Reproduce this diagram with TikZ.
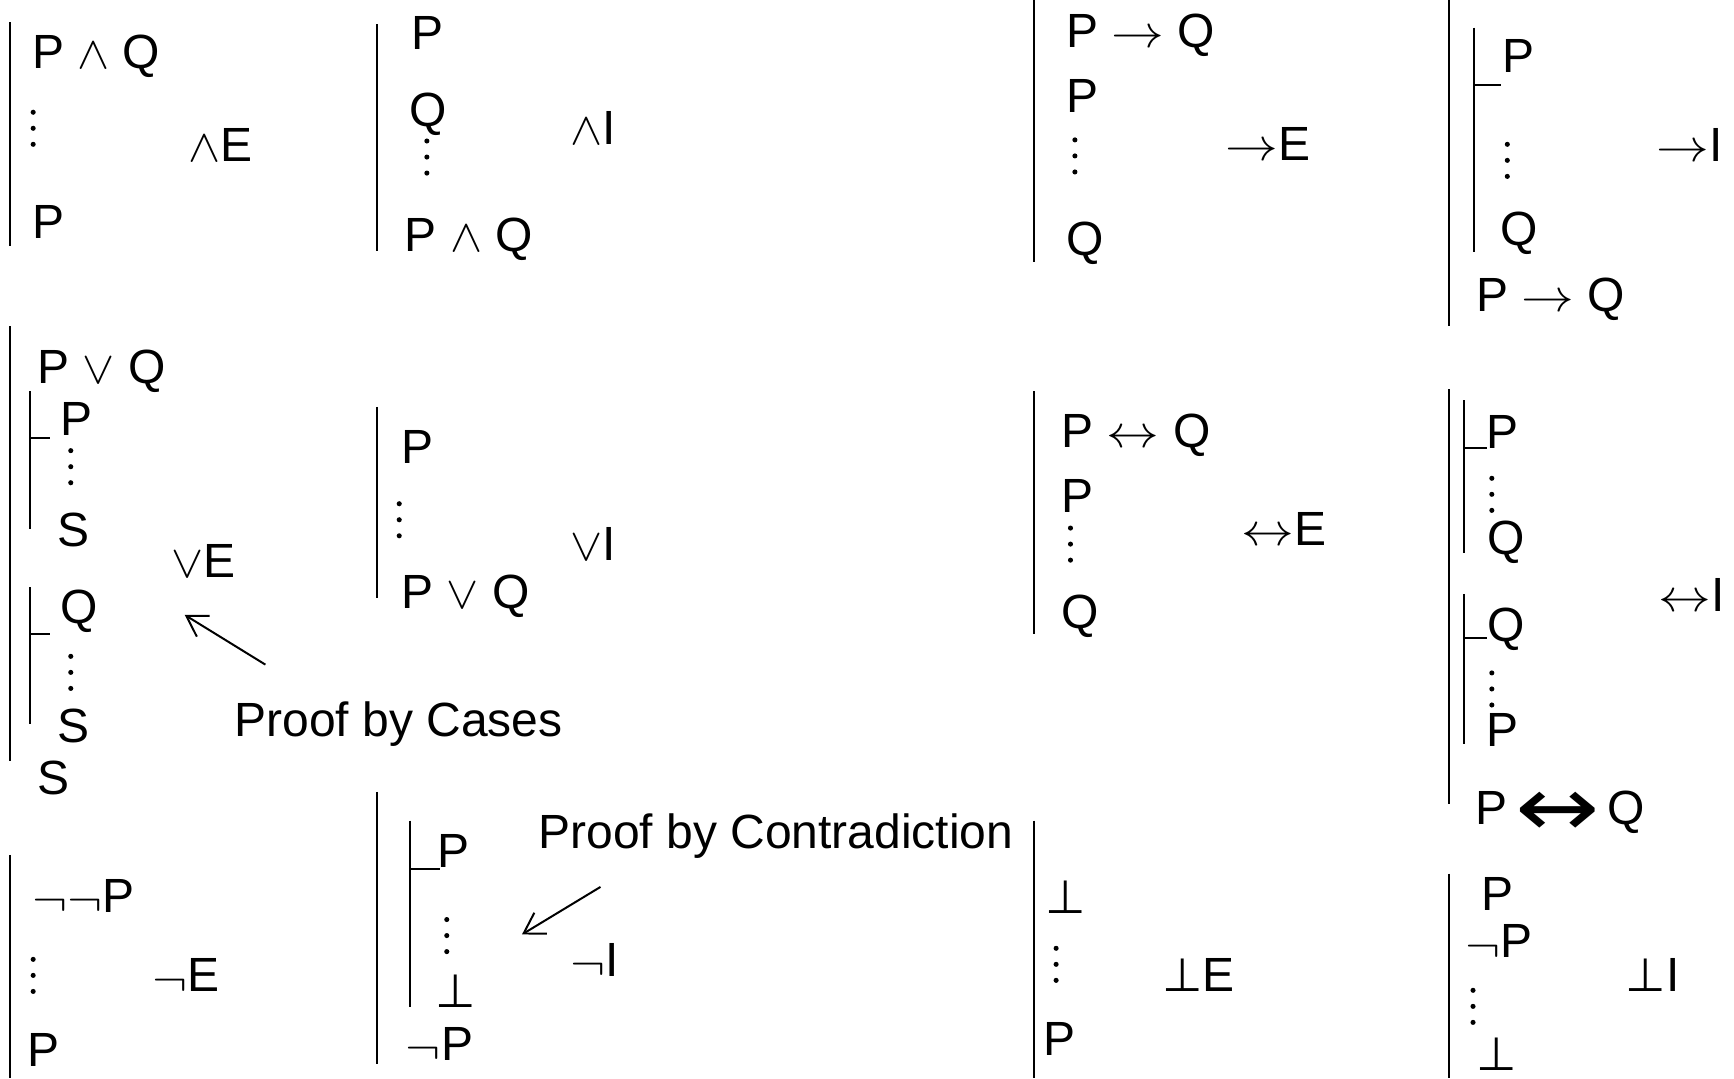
\documentclass[tikz,border=0pt]{standalone}
\usepackage{graphicx}
\usepackage{fontspec}
\setmainfont{Liberation Sans}
\newfontfamily\dejavu{DejaVu Sans}
\usetikzlibrary{arrows.meta}

% connective glyphs: #1 horizontal stretch, #2 size, #3 shift, #4 math symbol
\newcommand\symb[4]{\raisebox{#3}{\scalebox{#1}[1]{\fontsize{#2}{#2}\selectfont$#4$}}}
\newcommand\AND{\symb{1.05}{20.74}{0pt}{\wedge}}
\newcommand\OR{\symb{1.05}{20.74}{0pt}{\vee}}
\newcommand\IMP{\symb{1.15}{20.74}{0pt}{\rightarrow}}
\newcommand\IFF{\symb{1.15}{20.74}{0pt}{\leftrightarrow}}
\newcommand\NEG{\symb{1.15}{20.74}{-1.5pt}{\neg}}
\newcommand\BOT{{\fontsize{21}{21}\dejavu ⊥}}
\newcommand\BIGIFF{\raisebox{-5pt}{\scalebox{1.2}[1]{\fontsize{38}{38}\dejavu ↔}}}

\begin{document}
\begin{tikzpicture}[
  x=0.5pt, y=-0.5pt,
  t/.style={anchor=base west, inner sep=0pt, outer sep=0pt,
            font=\fontsize{21.7}{26}\selectfont},
  bar/.style={line width=1pt},
  subbar/.style={line width=0.8pt},
  pointer/.style={line width=0.9pt, -{Straight Barb[length=9pt, width=11pt]}},
  vd/.pic={\foreach \k in {-1,0,1} \fill (0,\k*14.5) circle[radius=2.3];}
]
\fill[white] (0,0) rectangle (1568,975);
\useasboundingbox (0,0) rectangle (1568,975);

% ---- and elimination
\draw[bar] (9,20) -- (9,222);
\node[t] (a1) at (29,62) {P \AND{} Q};
\pic at (30,116) {vd};
\node[t] (a2) at (170,146) {\AND{}E};
\node[t] (a3) at (29,216) {P};

% ---- and introduction
\draw[bar] (341,22) -- (341,227);
\node[t] (b1) at (372,45) {P};
\node[t] (b2) at (370,114) {Q};
\pic at (386,142) {vd};
\node[t] (b3) at (516,131) {\AND{}I};
\node[t] (b4) at (366,227) {P \AND{} Q};

% ---- conditional elimination
\draw[bar] (935,0) -- (935,237);
\node[t] (c1) at (964,43) {P \IMP{} Q};
\node[t] (c2) at (964,102) {P};
\pic at (972,141) {vd};
\node[t] (c3) at (1108,145) {\IMP{}E};
\node[t] (c4) at (964,231) {Q};

% ---- conditional introduction
\draw[bar] (1310,0) -- (1310,295);
\draw[subbar] (1333,25) -- (1333,228);
\draw[subbar] (1333,77) -- (1357,77);
\node[t] (d1) at (1359,66) {P};
\pic at (1363,145) {vd};
\node[t] (d2) at (1498,146) {\IMP{}I};
\node[t] (d3) at (1357,222) {Q};
\node[t] (d4) at (1335,282) {P \IMP{} Q};

% ---- or elimination (proof by cases)
\draw[bar] (9,295) -- (9,688);
\node[t] (e1) at (34,347) {P \OR{} Q};
\draw[subbar] (27,354) -- (27,478);
\draw[subbar] (27,396) -- (45,396);
\node[t] (e2) at (55,394) {P};
\pic at (64,422) {vd};
\node[t] (e3) at (52,494) {S};
\node[t] (e4) at (155,522) {\OR{}E};
\draw[subbar] (27,531) -- (27,655);
\draw[subbar] (27,573) -- (45,573);
\node[t] (e5) at (55,564) {Q};
\pic at (64,608) {vd};
\node[t] (e6) at (52,671) {S};
\node[t] (e7) at (34,718) {S};
\node[t] (cases) at (212,666) {Proof by Cases};
\coordinate (casesTail) at (240,601);
\coordinate (casesTip) at (167,556);
\draw[pointer] (casesTail) -- (casesTip);

% ---- or introduction
\draw[bar] (341,368) -- (341,541);
\node[t] (f1) at (363,419) {P};
\pic at (361,470) {vd};
\node[t] (f2) at (516,507) {\OR{}I};
\node[t] (f3) at (363,550) {P \OR{} Q};

% ---- biconditional elimination
\draw[bar] (935,354) -- (935,573);
\node[t] (g1) at (960,405) {P \IFF{} Q};
\node[t] (g2) at (960,463) {P};
\pic at (968,492) {vd};
\node[t] (g3) at (1123,493) {\IFF{}E};
\node[t] (g4) at (960,568) {Q};

% ---- biconditional introduction
\draw[bar] (1310,352) -- (1310,727);
\draw[subbar] (1324,362) -- (1324,500);
\draw[subbar] (1324,405) -- (1345,405);
\node[t] (h1) at (1344,406) {P};
\pic at (1349,447) {vd};
\node[t] (h2) at (1345,501) {Q};
\draw[subbar] (1324,537) -- (1324,673);
\draw[subbar] (1324,577) -- (1345,577);
\node[t] (h3) at (1345,580) {Q};
\pic at (1349,623) {vd};
\node[t] (h4) at (1344,675) {P};
\node[t] (h5) at (1500,553) {\IFF{}I};
\node[t] (h6) at (1334,746) {P\,\BIGIFF\,Q};

% ---- negation elimination
\draw[bar] (9,773) -- (9,975);
\node[t] (i1) at (29,825) {\NEG\NEG{}P};
\pic at (30,882) {vd};
\node[t] (i2) at (138,897) {\NEG{}E};
\node[t] (i3) at (25,964) {P};

% ---- negation introduction (proof by contradiction)
\draw[bar] (341,716) -- (341,962);
\draw[subbar] (371,742) -- (371,911);
\draw[subbar] (371,786) -- (398,786);
\node[t] (j1) at (396,784) {P};
\pic at (404,846) {vd};
\node[t] (j2) at (394,911) {\BOT};
\node[t] (j3) at (367,959) {\NEG{}P};
\node[t] (j4) at (516,883) {\NEG{}I};
\node[t] (contra) at (487,767) {Proof by Contradiction};
\coordinate (contraTail) at (543,802);
\coordinate (contraTip) at (472,845);
\draw[pointer] (contraTail) -- (contraTip);

% ---- falsum elimination
\draw[bar] (935,742) -- (935,975);
\node[t] (k1) at (945,826) {\BOT};
\pic at (955,872) {vd};
\node[t] (k2) at (1051,897) {\BOT{}E};
\node[t] (k3) at (944,954) {P};

% ---- falsum introduction
\draw[bar] (1310,790) -- (1310,975);
\node[t] (l1) at (1340,823) {P};
\node[t] (l2) at (1325,866) {\NEG{}P};
\pic at (1332,910) {vd};
\node[t] (l3) at (1470,897) {\BOT{}I};
\node[t] (l4) at (1335,968) {\BOT};
\end{tikzpicture}
\end{document}
